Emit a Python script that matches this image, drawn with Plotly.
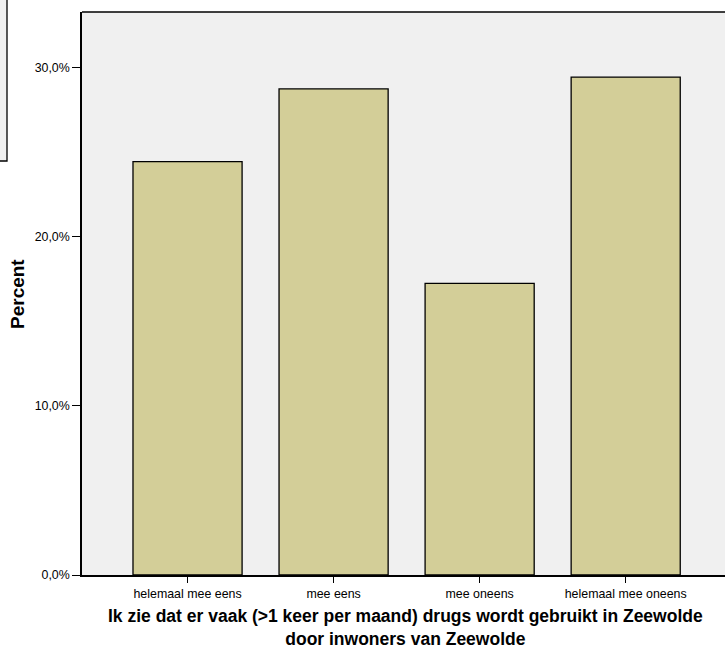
import plotly.graph_objects as go

categories = ["helemaal mee eens", "mee eens", "mee oneens", "helemaal mee oneens"]
percent_values = [24.45, 28.75, 17.25, 29.45]
y_tick_values = [0, 10, 20, 30]
y_tick_labels = ["0,0%", "10,0%", "20,0%", "30,0%"]
x_title_lines = ["Ik zie dat er vaak (>1 keer per maand) drugs wordt gebruikt in Zeewolde",
                 "door inwoners van Zeewolde"]

FONT = "Liberation Sans, Arial, sans-serif"

fig = go.Figure()
fig.add_trace(go.Bar(
    x=list(range(len(categories))),
    y=percent_values,
    width=0.747,
    marker=dict(color="#d3ce98", line=dict(color="#000000", width=1.3)),
    hoverinfo="skip",
))

L, T, B = 82, 12, 77
W, H = 725, 652
pw = W - L
ph = H - T - B

fig.update_layout(
    width=W, height=H,
    margin=dict(l=L, r=0, t=T, b=B, pad=0, autoexpand=False),
    paper_bgcolor="white",
    plot_bgcolor="#f0f0f0",
    showlegend=False,
    font=dict(family=FONT, size=12, color="#000000"),
    xaxis=dict(
        range=[-0.7226, 3.68],
        tickvals=list(range(len(categories))),
        ticktext=categories,
        ticks="outside", ticklen=6, tickwidth=1.3, tickcolor="#000000",
        showgrid=False, zeroline=False,
        showline=True, linecolor="#000000", linewidth=1.5,
        tickfont=dict(size=12.4, family=FONT),
        automargin=False,
    ),
    yaxis=dict(
        range=[0, 33.3],
        tickvals=y_tick_values,
        ticktext=y_tick_labels,
        ticks="outside", ticklen=8, tickwidth=1.3, tickcolor="#000000",
        showgrid=False, zeroline=False,
        showline=True, linecolor="#000000", linewidth=1.5,
        tickfont=dict(size=12.4, family=FONT),
        automargin=False,
    ),
    shapes=[
        # top border of plot area
        dict(type="line", xref="paper", yref="paper", x0=0, x1=1, y0=1, y1=1,
             line=dict(color="#000000", width=1.5)),
        # partial legend box at left edge (cropped)
        dict(type="rect", xref="paper", yref="paper",
             x0=(-10 - L) / pw, x1=(7 - L) / pw,
             y0=(H - B - 161) / ph, y1=(H - B + 10) / ph,
             fillcolor="#f0f0f0", line=dict(color="#000000", width=1.3), layer="below"),
    ],
    annotations=[
        dict(text="<b>Percent</b>", xref="paper", yref="paper",
             x=(17 - L) / pw, y=(H - B - 294) / ph, textangle=-90,
             xanchor="center", yanchor="middle",
             showarrow=False, font=dict(size=19, family=FONT)),
        dict(text="<b>" + "<br>".join(x_title_lines) + "</b>", xref="paper", yref="paper",
             x=(405 - L) / pw, y=0, yshift=-(627 - (H - B)), yanchor="middle",
             showarrow=False, font=dict(size=17.5, family=FONT)),
    ],
)

fig.write_html("out.html", config={"displayModeBar": False},
               post_script="document.body.style.margin='0';document.body.style.overflow='hidden';")
